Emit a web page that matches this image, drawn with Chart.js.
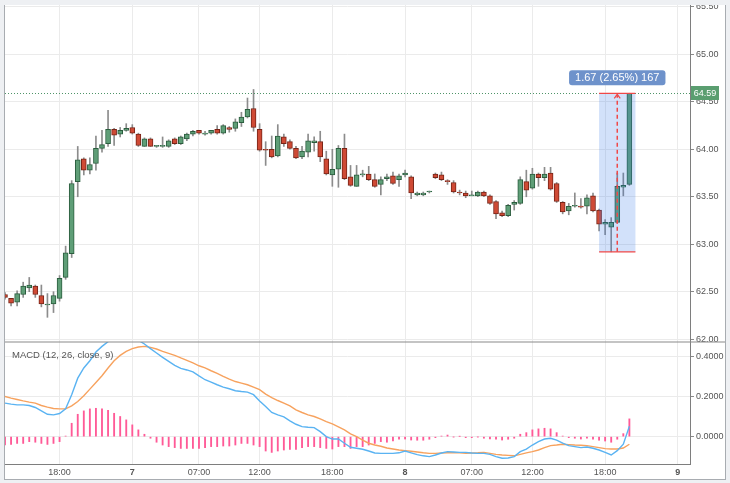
<!DOCTYPE html>
<html>
<head>
<meta charset="utf-8">
<script src="https://cdn.jsdelivr.net/npm/chart.js@4.4.1/dist/chart.umd.min.js"></script>
<style>
    html, body { margin: 0; padding: 0; background: #eef0f3; }
    #frame {
        position: absolute; left: 4px; top: 5px; width: 720px; height: 474px;
        background: #fff; border-left: 1px solid #a8acb1; border-right: 1px solid #a8acb1; border-bottom: 1px solid #a8acb1;
    }
    canvas { display: block; }
</style>
</head>
<body>
<div id="frame"><canvas id="chart" width="720" height="474"></canvas></div>
<script>
// 30-minute candles, oldest first
const openVals = [62.47, 62.43, 62.39, 62.47, 62.54, 62.56, 62.46, 62.36, 62.37, 62.43,
    62.65, 62.90, 63.66, 63.90, 63.78, 63.85, 64.01, 64.06, 64.21, 64.16,
    64.20, 64.23, 64.16, 64.03, 64.11, 64.03, 64.03, 64.03, 64.11, 64.06,
    64.11, 64.16, 64.20, 64.16, 64.17, 64.21, 64.17, 64.23, 64.22, 64.28,
    64.34, 64.43, 64.21, 64.00, 64.00, 63.93, 64.13, 64.08, 64.01, 63.92,
    63.97, 64.07, 64.08, 63.90, 63.73, 63.79, 64.01, 63.71, 63.61, 63.73,
    63.74, 63.68, 63.63, 63.69, 63.72, 63.68, 63.73, 63.71, 63.52, 63.52,
    63.55, 63.74, 63.73, 63.67, 63.65, 63.55, 63.54, 63.51, 63.51, 63.55,
    63.51, 63.45, 63.33, 63.30, 63.42, 63.43, 63.66, 63.59, 63.74, 63.70,
    63.75, 63.64, 63.44, 63.35, 63.40, 63.40, 63.40, 63.51, 63.36, 63.21,
    63.18, 63.23, 63.60, 63.63];
const highVals = [62.49, 62.43, 62.51, 62.60, 62.65, 62.57, 62.57, 62.48, 62.50, 62.67,
    62.98, 63.67, 64.03, 63.91, 63.91, 64.14, 64.20, 64.41, 64.22, 64.23,
    64.27, 64.26, 64.17, 64.12, 64.12, 64.04, 64.13, 64.10, 64.12, 64.14,
    64.17, 64.20, 64.20, 64.19, 64.20, 64.25, 64.26, 64.24, 64.32, 64.39,
    64.54, 64.63, 64.27, 64.08, 64.14, 64.26, 64.16, 64.10, 64.03, 64.03,
    64.16, 64.13, 64.19, 63.98, 64.00, 64.04, 64.16, 63.83, 63.83, 63.78,
    63.82, 63.74, 63.71, 63.74, 63.76, 63.74, 63.78, 63.72, 63.55, 63.55,
    63.56, 63.75, 63.76, 63.68, 63.67, 63.57, 63.56, 63.56, 63.56, 63.56,
    63.52, 63.46, 63.35, 63.42, 63.46, 63.71, 63.78, 63.80, 63.75, 63.81,
    63.81, 63.65, 63.45, 63.43, 63.54, 63.48, 63.52, 63.54, 63.37, 63.26,
    63.28, 63.75, 63.75, 64.59];
const lowVals = [62.42, 62.35, 62.35, 62.44, 62.50, 62.44, 62.34, 62.23, 62.28, 62.40,
    62.63, 62.86, 63.50, 63.73, 63.74, 63.78, 63.97, 64.03, 64.04, 64.13,
    64.19, 64.16, 64.03, 64.03, 64.03, 64.02, 64.02, 64.02, 64.05, 64.05,
    64.09, 64.14, 64.16, 64.15, 64.16, 64.16, 64.16, 64.18, 64.19, 64.24,
    64.33, 64.19, 63.98, 63.83, 63.91, 63.92, 64.03, 64.00, 63.90, 63.90,
    63.92, 63.98, 63.87, 63.73, 63.61, 63.60, 63.68, 63.61, 63.61, 63.71,
    63.67, 63.60, 63.52, 63.67, 63.63, 63.61, 63.71, 63.48, 63.51, 63.51,
    63.54, 63.69, 63.67, 63.63, 63.54, 63.52, 63.49, 63.51, 63.50, 63.50,
    63.42, 63.27, 63.29, 63.29, 63.36, 63.42, 63.50, 63.58, 63.61, 63.67,
    63.57, 63.44, 63.32, 63.31, 63.39, 63.38, 63.32, 63.34, 63.14, 63.10,
    62.92, 63.22, 63.51, 63.62];
const closeVals = [62.44, 62.38, 62.48, 62.56, 62.57, 62.47, 62.37, 62.36, 62.46, 62.64,
    62.91, 63.64, 63.89, 63.78, 63.84, 64.01, 64.05, 64.21, 64.15, 64.20,
    64.22, 64.17, 64.04, 64.11, 64.03, 64.03, 64.04, 64.09, 64.06, 64.13,
    64.16, 64.19, 64.17, 64.16, 64.20, 64.17, 64.25, 64.21, 64.29, 64.34,
    64.42, 64.23, 63.99, 63.99, 63.92, 64.14, 64.06, 64.01, 63.91, 63.98,
    64.09, 64.09, 63.92, 63.74, 63.79, 64.01, 63.69, 63.62, 63.73, 63.74,
    63.68, 63.61, 63.68, 63.71, 63.64, 63.72, 63.75, 63.54, 63.54, 63.54,
    63.55, 63.70, 63.68, 63.66, 63.55, 63.54, 63.51, 63.52, 63.55, 63.51,
    63.43, 63.32, 63.30, 63.41, 63.44, 63.68, 63.57, 63.74, 63.70, 63.74,
    63.58, 63.45, 63.34, 63.40, 63.40, 63.39, 63.49, 63.35, 63.21, 63.23,
    63.23, 63.61, 63.62, 64.59];

// MACD (12, 26, close, 9)
const macdVals = [0.168, 0.163, 0.159, 0.159, 0.156, 0.146, 0.129, 0.112, 0.109, 0.116,
    0.139, 0.210, 0.293, 0.344, 0.380, 0.424, 0.452, 0.476, 0.497, 0.508,
    0.511, 0.500, 0.483, 0.464, 0.441, 0.419, 0.397, 0.377, 0.357, 0.342,
    0.334, 0.324, 0.304, 0.285, 0.273, 0.260, 0.248, 0.240, 0.230, 0.226,
    0.223, 0.210, 0.179, 0.151, 0.121, 0.109, 0.099, 0.079, 0.062, 0.050,
    0.047, 0.045, 0.025, 0.000, -0.012, -0.012, -0.033, -0.053, -0.058, -0.063,
    -0.072, -0.082, -0.084, -0.084, -0.084, -0.081, -0.072, -0.081, -0.090, -0.096,
    -0.100, -0.092, -0.082, -0.075, -0.077, -0.079, -0.079, -0.082, -0.084, -0.084,
    -0.089, -0.100, -0.108, -0.107, -0.100, -0.075, -0.062, -0.042, -0.025, -0.012,
    -0.008, -0.017, -0.033, -0.045, -0.050, -0.055, -0.052, -0.058, -0.067, -0.079,
    -0.092, -0.070, -0.038, 0.052];
const signalVals = [0.201, 0.193, 0.186, 0.179, 0.173, 0.168, 0.156, 0.148, 0.141, 0.139,
    0.139, 0.154, 0.176, 0.205, 0.238, 0.271, 0.305, 0.344, 0.380, 0.407,
    0.427, 0.441, 0.449, 0.452, 0.447, 0.439, 0.427, 0.417, 0.407, 0.394,
    0.382, 0.369, 0.355, 0.344, 0.330, 0.317, 0.302, 0.288, 0.276, 0.268,
    0.260, 0.248, 0.235, 0.213, 0.196, 0.181, 0.168, 0.154, 0.134, 0.121,
    0.109, 0.101, 0.089, 0.075, 0.064, 0.049, 0.034, 0.014, 0.000, -0.017,
    -0.033, -0.042, -0.048, -0.057, -0.062, -0.067, -0.070, -0.073, -0.077, -0.081,
    -0.084, -0.084, -0.082, -0.081, -0.081, -0.081, -0.084, -0.082, -0.081, -0.079,
    -0.084, -0.089, -0.092, -0.094, -0.096, -0.089, -0.081, -0.075, -0.067, -0.055,
    -0.045, -0.042, -0.038, -0.040, -0.042, -0.043, -0.045, -0.050, -0.055, -0.060,
    -0.062, -0.062, -0.057, -0.038];
const histVals = [-0.042, -0.039, -0.034, -0.034, -0.025, -0.028, -0.034, -0.039, -0.034, -0.025,
    0.003, 0.067, 0.112, 0.129, 0.139, 0.142, 0.139, 0.132, 0.117, 0.101,
    0.084, 0.059, 0.034, 0.012, -0.008, -0.028, -0.042, -0.050, -0.055, -0.059,
    -0.059, -0.059, -0.059, -0.055, -0.050, -0.050, -0.047, -0.047, -0.042, -0.034,
    -0.034, -0.042, -0.050, -0.072, -0.079, -0.072, -0.067, -0.064, -0.064, -0.055,
    -0.050, -0.050, -0.055, -0.059, -0.062, -0.050, -0.050, -0.059, -0.050, -0.050,
    -0.042, -0.034, -0.025, -0.028, -0.022, -0.013, -0.012, -0.017, -0.018, -0.018,
    -0.013, -0.005, 0.003, 0.008, -0.001, 0.001, -0.005, -0.005, -0.001, -0.008,
    -0.012, -0.013, -0.017, -0.013, -0.008, 0.012, 0.020, 0.034, 0.039, 0.042,
    0.039, 0.020, 0.003, -0.005, -0.008, -0.012, -0.008, -0.013, -0.018, -0.022,
    -0.028, -0.013, 0.015, 0.089];

// time axis: bar slots (incl. empty space on the right) and the labelled ones
const slotCount = 114;
const tickIndex = [9, 21, 32, 42, 54, 66, 77, 87, 99, 111];
const tickText = ['18:00', '7', '07:00', '12:00', '18:00', '8', '07:00', '12:00', '18:00', '9'];
const priceTicks = [62.0, 62.5, 63.0, 63.5, 64.0, 64.5, 65.0, 65.5];
const macdTicks = [0, 0.2, 0.4];

// price range tool
const measureBars = [98, 104];
const measurePrices = [62.92, 64.59];
const measureCount = 167;

const FONT = "'Liberation Sans', Arial, sans-serif";
const UP = '#5f9e77', UP_EDGE = '#2b5d3e';
const DOWN = '#cf4a35', DOWN_EDGE = '#772417';

const labels = Array.from({ length: slotCount }, (_, i) => {
    const k = tickIndex.indexOf(i);
    return k >= 0 ? tickText[k] : '';
});
const isUp = (i) => closeVals[i] >= openVals[i];

const paneClip = {
    id: 'paneClip',
    beforeDatasetDraw(chart, args) {
        const s = chart.scales[args.meta.yAxisID];
        const { ctx, chartArea } = chart;
        ctx.save();
        ctx.beginPath();
        ctx.rect(chartArea.left, s.top, chartArea.right - chartArea.left, s.bottom - s.top);
        ctx.clip();
    },
    afterDatasetDraw(chart) {
        chart.ctx.restore();
    },
};

const overlays = {
    id: 'overlays',
    afterDatasetsDraw(chart) {
        const { ctx, chartArea, scales: { x, y } } = chart;
        const last = closeVals[closeVals.length - 1];
        const py = Math.round(y.getPixelForValue(last)) + 0.5;

        // last price dotted line
        ctx.save();
        ctx.strokeStyle = '#4f9468';
        ctx.lineWidth = 1;
        ctx.setLineDash([1, 2]);
        ctx.beginPath();
        ctx.moveTo(chartArea.left, py);
        ctx.lineTo(chartArea.right, py);
        ctx.stroke();
        ctx.restore();

        // price range measurement
        const x0 = x.getPixelForValue(measureBars[0]);
        const x1 = x.getPixelForValue(measureBars[1]);
        const xm = (x0 + x1) / 2;
        const yTop = y.getPixelForValue(measurePrices[1]);
        const yBot = y.getPixelForValue(measurePrices[0]);
        ctx.save();
        ctx.fillStyle = 'rgba(52, 118, 230, 0.22)';
        ctx.fillRect(x0, yTop, x1 - x0, yBot - yTop);
        ctx.strokeStyle = '#f04848';
        ctx.lineWidth = 1.2;
        ctx.beginPath();
        ctx.moveTo(x0, yTop); ctx.lineTo(x1, yTop);
        ctx.moveTo(x0, yBot); ctx.lineTo(x1, yBot);
        ctx.stroke();
        ctx.setLineDash([4, 3]);
        ctx.lineWidth = 1.5;
        ctx.beginPath();
        ctx.moveTo(xm, yBot);
        ctx.lineTo(xm, yTop + 2);
        ctx.stroke();
        ctx.setLineDash([]);
        ctx.lineWidth = 1.2;
        ctx.beginPath();
        ctx.moveTo(xm - 3, yTop + 5);
        ctx.lineTo(xm, yTop + 1);
        ctx.lineTo(xm + 3, yTop + 5);
        ctx.stroke();

        const diff = measurePrices[1] - measurePrices[0];
        const pct = diff / measurePrices[0] * 100;
        const text = `${diff.toFixed(2)} (${pct.toFixed(2)}%) ${measureCount}`;
        ctx.font = `11px ${FONT}`;
        const w = ctx.measureText(text).width + 12;
        const h = 15;
        const bx = xm - w / 2;
        const by = yTop - 8 - h;
        ctx.fillStyle = '#6e92cb';
        ctx.beginPath();
        ctx.roundRect(bx, by, w, h, 3);
        ctx.fill();
        ctx.fillStyle = '#fff';
        ctx.textAlign = 'center';
        ctx.textBaseline = 'middle';
        ctx.fillText(text, xm, by + h / 2 + 0.5);
        ctx.restore();
    },
    afterDraw(chart) {
        const { ctx, chartArea, scales: { y, y2 } } = chart;

        // pane separator
        ctx.save();
        ctx.fillStyle = '#8a8a8a';
        ctx.fillRect(0, Math.round(y2.top) - 0.5, chart.width, 1);

        // indicator title
        ctx.fillStyle = '#555';
        ctx.font = `9.5px ${FONT}`;
        ctx.textBaseline = 'middle';
        ctx.fillText('MACD (12, 26, close, 9)', 7, y2.top + 13);

        // last price tag
        const last = closeVals[closeVals.length - 1];
        const py = y.getPixelForValue(last);
        ctx.fillStyle = '#5a9e70';
        ctx.fillRect(chartArea.right + 1, Math.round(py) - 7, 28, 14);
        ctx.fillStyle = '#fff';
        ctx.font = `9px ${FONT}`;
        ctx.textAlign = 'center';
        ctx.fillText(last.toFixed(2), chartArea.right + 15, Math.round(py) + 0.5);
        ctx.restore();
    },
};

const axisFont = { family: FONT, size: 9 };

new Chart(document.getElementById('chart'), {
    type: 'bar',
    data: {
        labels,
        datasets: [
            {
                label: 'body',
                data: openVals.map((o, i) => [o, closeVals[i]]),
                yAxisID: 'y',
                grouped: false,
                barThickness: 5,
                minBarLength: 1,
                borderWidth: 1,
                borderSkipped: false,
                backgroundColor: (c) => isUp(c.dataIndex) ? UP : DOWN,
                borderColor: (c) => isUp(c.dataIndex) ? UP_EDGE : DOWN_EDGE,
                order: 1,
            },
            {
                label: 'wick',
                data: lowVals.map((l, i) => [l, highVals[i]]),
                yAxisID: 'y',
                grouped: false,
                barThickness: 1,
                backgroundColor: '#8c8c8c',
                order: 2,
            },
            {
                label: 'Histogram',
                data: histVals,
                yAxisID: 'y2',
                grouped: false,
                barThickness: 1.2,
                backgroundColor: '#ff5a97',
                order: 5,
            },
            {
                type: 'line',
                label: 'Signal',
                data: signalVals,
                yAxisID: 'y2',
                borderColor: '#f7a25e',
                borderWidth: 1.4,
                pointRadius: 0,
                tension: 0,
                order: 4,
            },
            {
                type: 'line',
                label: 'MACD',
                data: macdVals,
                yAxisID: 'y2',
                borderColor: '#5ab3f2',
                borderWidth: 1.4,
                pointRadius: 0,
                tension: 0,
                order: 3,
            },
        ],
    },
    options: {
        responsive: false,
        animation: false,
        events: [],
        layout: { padding: 0 },
        plugins: { legend: { display: false }, tooltip: { enabled: false } },
        scales: {
            x: {
                type: 'category',
                offset: false,
                grid: {
                    offset: false,
                    drawTicks: false,
                    color: (c) => labels[c.index] ? '#ebebeb' : 'rgba(0,0,0,0)',
                },
                border: { color: '#7e7e7e' },
                ticks: {
                    autoSkip: false,
                    maxRotation: 0,
                    padding: 3,
                    color: '#555',
                    font: (c) => ({ ...axisFont, weight: /^\d+$/.test(c.tick && c.tick.label) ? 'bold' : 'normal' }),
                },
                afterFit: (a) => { a.height = 15; a.paddingLeft = 0; a.paddingRight = 0; },
            },
            y: {
                position: 'right',
                stack: 'panes',
                stackWeight: 337,
                min: 61.97,
                max: 65.52,
                afterBuildTicks: (a) => { a.ticks = priceTicks.map((v) => ({ value: v })); },
                afterFit: (a) => { a.width = 35; a.paddingTop = 0; a.paddingBottom = 0; },
                grid: { color: '#ebebeb', tickColor: '#8a8a8a', tickLength: 4 },
                border: { color: '#7e7e7e' },
                ticks: { padding: 2, color: '#555', font: axisFont, callback: (v) => v.toFixed(2) },
            },
            y2: {
                position: 'right',
                stack: 'panes',
                stackWeight: 122,
                min: -0.137,
                max: 0.474,
                afterBuildTicks: (a) => { a.ticks = macdTicks.map((v) => ({ value: v })); },
                afterFit: (a) => { a.width = 35; a.paddingTop = 0; a.paddingBottom = 0; },
                grid: { color: '#ebebeb', tickColor: '#8a8a8a', tickLength: 4 },
                border: { color: '#7e7e7e' },
                ticks: { padding: 2, color: '#555', font: axisFont, callback: (v) => v.toFixed(4) },
            },
        },
    },
    plugins: [paneClip, overlays],
});
</script>
</body>
</html>
